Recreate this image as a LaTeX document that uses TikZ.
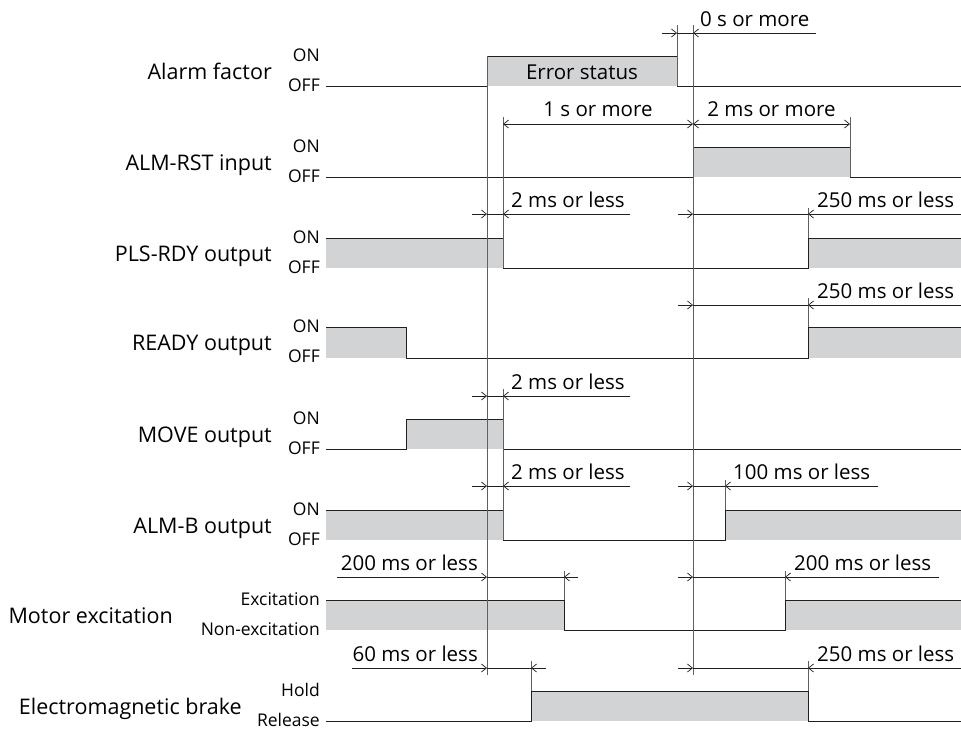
\documentclass[tikz,border=0pt]{standalone}
\usepackage{fontspec}
\setmainfont{Open Sans}
\usetikzlibrary{arrows.meta, positioning, calc}
\definecolor{wavefill}{RGB}{209,211,212}
\definecolor{waveline}{RGB}{35,31,32}
\definecolor{refline}{RGB}{95,95,95}
\tikzset{
  wave/.style={draw=waveline, line width=1pt},
  high/.style={fill=wavefill},
  guide/.style={draw=refline, line width=0.8pt},
  dimline/.style={draw=waveline, line width=0.7pt},
  dimtip/.tip={Straight Barb[length=5pt,width=8pt]},
  dimtext/.style={font=\fontsize{20.5}{24}\selectfont, inner sep=0pt, anchor=base west},
  rowname/.style={font=\fontsize{21.5}{25}\selectfont, inner sep=0pt, anchor=base east},
  level/.style={font=\fontsize{17.5}{20}\selectfont, inner sep=0pt, anchor=base east},
}
% timing arrow: line x0..x1 at height y, tips pointing in at xa and xb
\newcommand\dimless[5]{%
  \draw[dimline,-{dimtip}] (#2,#1) -- (#3,#1);
  \draw[dimline] (#3,#1) -- (#4,#1);
  \draw[dimline,-{dimtip}] (#5,#1) -- (#4,#1);}
\begin{document}
\begin{tikzpicture}[x=1pt, y=-1pt]
  \useasboundingbox (0,0) rectangle (961,729);

  % row names and levels
  \foreach \y/\nx/\name/\on/\off [count=\i] in {
      56/272/Alarm factor/ON/OFF,
      147/272/ALM-RST input/ON/OFF,
      238/272/PLS-RDY output/ON/OFF,
      327/272/READY output/ON/OFF,
      419/272/MOVE output/ON/OFF,
      510/272/ALM-B output/ON/OFF,
      600/173/Motor excitation/Excitation/Non-excitation,
      691/242/Electromagnetic brake/Hold/Release} {
    \node[level] (on\i) at (320,\y+5.5) {\on};
    \node[level] (off\i) at (320,\y+35) {\off};
    \node[rowname] (row\i) at (\nx,\y+23) {\name};
  }

  % grey high levels
  \fill[high] (487,56) rectangle (677,86);
  \fill[high] (693,147) rectangle (850,177);
  \fill[high] (326,238) rectangle (503,268);
  \fill[high] (808,238) rectangle (961,268);
  \fill[high] (326,327) rectangle (406,358);
  \fill[high] (808,327) rectangle (961,358);
  \fill[high] (406,419) rectangle (503,449);
  \fill[high] (326,510) rectangle (503,540);
  \fill[high] (725,510) rectangle (961,540);
  \fill[high] (326,600) rectangle (564,630);
  \fill[high] (785,600) rectangle (961,630);
  \fill[high] (531,691) rectangle (808,721);

  % waveforms
  \draw[wave] (326,86) -- (487,86) -- (487,56) -- (677,56) -- (677,86) -- (961,86);
  \draw[wave] (326,177) -- (693,177) -- (693,147) -- (850,147) -- (850,177) -- (961,177);
  \draw[wave] (326,238) -- (503,238) -- (503,268) -- (808,268) -- (808,238) -- (961,238);
  \draw[wave] (326,327) -- (406,327) -- (406,358) -- (808,358) -- (808,327) -- (961,327);
  \draw[wave] (326,449) -- (406,449) -- (406,419) -- (503,419) -- (503,449) -- (961,449);
  \draw[wave] (326,510) -- (503,510) -- (503,540) -- (725,540) -- (725,510) -- (961,510);
  \draw[wave] (326,600) -- (564,600) -- (564,630) -- (785,630) -- (785,600) -- (961,600);
  \draw[wave] (326,721) -- (531,721) -- (531,691) -- (808,691) -- (808,721) -- (961,721);
  \node[font=\fontsize{20.5}{24}\selectfont, inner sep=0pt, anchor=base] (err) at (582,79) {Error status};

  % guide lines
  \draw[guide] (487,56) -- (487,675);
  \draw[guide] (693,25) -- (693,675);
  \draw[guide] (677,25) -- (677,86);
  \draw[guide] (503,117) -- (503,268);
  \draw[guide] (503,389) -- (503,540);
  \draw[guide] (850,117) -- (850,177);
  \draw[guide] (808,208) -- (808,238);
  \draw[guide] (808,298) -- (808,327);
  \draw[guide] (725,480) -- (725,510);
  \draw[guide] (564,571) -- (564,600);
  \draw[guide] (785,571) -- (785,600);
  \draw[guide] (531,661) -- (531,691);
  \draw[guide] (808,661) -- (808,691);

  % timing arrows
  \dimless{33}{662}{677}{693}{816}
  \draw[dimline,{dimtip}-{dimtip}] (503,124) -- (693,124);
  \draw[dimline,{dimtip}-{dimtip}] (693,124) -- (850,124);
  \dimless{214}{472}{487}{503}{630}
  \dimless{214}{678}{693}{808}{961}
  \dimless{305}{678}{693}{808}{961}
  \dimless{396}{472}{487}{503}{630}
  \dimless{486}{472}{487}{503}{630}
  \dimless{486}{678}{693}{725}{878}
  \dimless{577}{337}{487}{564}{578}
  \dimless{577}{678}{693}{785}{939}
  \dimless{668}{352}{487}{531}{546}
  \dimless{668}{678}{693}{808}{961}

  % timing texts
  \node[dimtext] (t0s) at (700,26) {0 s or more};
  \node[dimtext, anchor=base] (t1s) at (598,116) {1 s or more};
  \node[dimtext, anchor=base] (t2more) at (771.5,116) {2 ms or more};
  \node[dimtext] (tpls) at (511,207) {2 ms or less};
  \node[dimtext] (tplsb) at (817,207) {250 ms or less};
  \node[dimtext] (trdy) at (817,298) {250 ms or less};
  \node[dimtext] (tmove) at (511,389) {2 ms or less};
  \node[dimtext] (talm) at (511,479) {2 ms or less};
  \node[dimtext] (talmb) at (733,479) {100 ms or less};
  \node[dimtext, anchor=base east] (tmot) at (478,570) {200 ms or less};
  \node[dimtext] (tmotb) at (794,570) {200 ms or less};
  \node[dimtext, anchor=base east] (tbrk) at (478,661) {60 ms or less};
  \node[dimtext] (tbrkb) at (817,661) {250 ms or less};
\end{tikzpicture}
\end{document}
